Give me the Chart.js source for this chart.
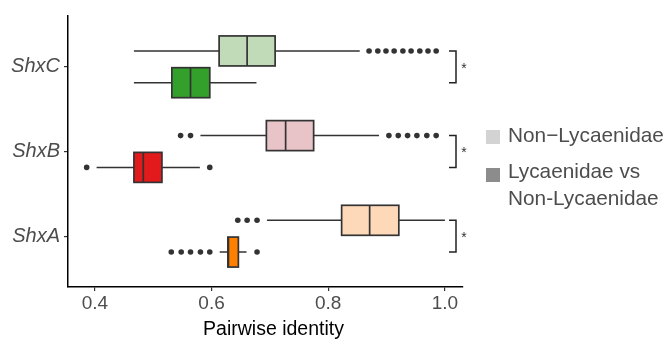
<!DOCTYPE html>
<html><head><meta charset="utf-8">
<script src="https://cdn.jsdelivr.net/npm/chart.js@4.4.1/dist/chart.umd.min.js"></script>
<style>html,body{margin:0;padding:0;background:#fff;}#wrap{position:relative;width:670px;height:340px;}</style>
</head><body><div id="wrap"><canvas id="c" width="670" height="340"></canvas></div>
<script>
// ---- data ----
const categories = ['ShxA', 'ShxB', 'ShxC'];
const seriesNames = ['Non\u2212Lycaenidae', 'Lycaenidae vs', 'Non-Lycaenidae'];
const xTickValues = [0.4, 0.6, 0.8, 1.0];

// Non-Lycaenidae (light boxes), per category ShxA, ShxB, ShxC
const nonLycLow    = [0.695, 0.581, 0.467];
const nonLycQ1     = [0.823, 0.694, 0.613];
const nonLycMedian = [0.871, 0.727, 0.661];
const nonLycQ3     = [0.921, 0.775, 0.709];
const nonLycHigh   = [1.000, 0.887, 0.854];
const nonLycOutliers = [
  [0.645, 0.661, 0.678],
  [0.547, 0.564, 0.904, 0.920, 0.936, 0.952, 0.969, 0.985],
  [0.870, 0.885, 0.899, 0.913, 0.928, 0.942, 0.957, 0.971, 0.985]
];

// Lycaenidae vs Non-Lycaenidae (dark boxes)
const lycLow    = [0.614, 0.403, 0.467];
const lycQ1     = [0.628, 0.467, 0.532];
const lycMedian = [0.629, 0.483, 0.564];
const lycQ3     = [0.646, 0.515, 0.597];
const lycHigh   = [0.660, 0.580, 0.677];
const lycOutliers = [
  [0.531, 0.548, 0.564, 0.581, 0.597, 0.678],
  [0.386, 0.597],
  []
];

// ---- styles ----
const lightFill = ['#fdd9b9', '#e8c4c8', '#c1dbb9'];
const darkFill  = ['#ff7f00', '#e31a1c', '#33a02c'];
const FONT = '"Liberation Sans", Arial, Helvetica, sans-serif';
const DODGE = 0.1875;

const outlierPoints = [];
categories.forEach((c, i) => {
  nonLycOutliers[i].forEach(v => outlierPoints.push({x: v, y: i + 1 + DODGE}));
  lycOutliers[i].forEach(v => outlierPoints.push({x: v, y: i + 1 - DODGE}));
});

const boxPlugin = {
  id: 'boxes',
  beforeDatasetsDraw(chart) {
    const {ctx, scales: {x, y}} = chart;
    const half = 15;
    ctx.save();
    ctx.strokeStyle = '#333333';
    const drawBox = (yv, lo, q1, med, q3, hi, fill) => {
      const py = y.getPixelForValue(yv);
      ctx.lineWidth = 1.5;
      ctx.beginPath();
      ctx.moveTo(x.getPixelForValue(lo), py); ctx.lineTo(x.getPixelForValue(q1), py);
      ctx.moveTo(x.getPixelForValue(q3), py); ctx.lineTo(x.getPixelForValue(hi), py);
      ctx.stroke();
      const x1 = x.getPixelForValue(q1), x2 = x.getPixelForValue(q3);
      ctx.fillStyle = fill;
      ctx.fillRect(x1, py - half, x2 - x1, 2 * half);
      ctx.lineWidth = 1.7;
      ctx.strokeRect(x1, py - half, x2 - x1, 2 * half);
      const xm = x.getPixelForValue(med);
      ctx.beginPath(); ctx.moveTo(xm, py - half); ctx.lineTo(xm, py + half); ctx.stroke();
    };
    categories.forEach((c, i) => {
      drawBox(i + 1 + DODGE, nonLycLow[i], nonLycQ1[i], nonLycMedian[i], nonLycQ3[i], nonLycHigh[i], lightFill[i]);
      drawBox(i + 1 - DODGE, lycLow[i], lycQ1[i], lycMedian[i], lycQ3[i], lycHigh[i], darkFill[i]);
    });
    ctx.restore();
  },
  afterDraw(chart) {
    const {ctx, scales: {x, y}, chartArea} = chart;
    ctx.save();
    // significance brackets
    const bx = chartArea.right - 7;
    categories.forEach((c, i) => {
      const yt = y.getPixelForValue(i + 1 + DODGE), yb = y.getPixelForValue(i + 1 - DODGE);
      ctx.strokeStyle = '#222'; ctx.lineWidth = 1.5;
      ctx.beginPath();
      ctx.moveTo(bx - 7, yt); ctx.lineTo(bx, yt); ctx.lineTo(bx, yb); ctx.lineTo(bx - 7, yb);
      ctx.stroke();
      ctx.fillStyle = '#333'; ctx.font = '14px ' + FONT;
      ctx.textAlign = 'center'; ctx.textBaseline = 'middle';
      ctx.fillText('*', bx + 8, (yt + yb) / 2 + 2);
    });
    // x title
    ctx.fillStyle = '#000'; ctx.font = '19.5px ' + FONT;
    ctx.textAlign = 'center'; ctx.textBaseline = 'alphabetic';
    ctx.fillText('Pairwise identity', (chartArea.left + chartArea.right) / 2 + 8, 335);
    // legend
    ctx.fillStyle = '#d3d3d3'; ctx.fillRect(486, 130, 14, 14);
    ctx.fillStyle = '#8c8c8c'; ctx.fillRect(486, 168, 14, 14);
    ctx.fillStyle = '#4d4d4d'; ctx.font = '20.8px ' + FONT; ctx.textAlign = 'left';
    ctx.fillText(seriesNames[0], 508, 142);
    ctx.fillText(seriesNames[1], 508, 178);
    ctx.fillText(seriesNames[2], 508, 205);
    ctx.restore();
  }
};

new Chart(document.getElementById('c'), {
  type: 'scatter',
  data: {
    datasets: [{
      data: outlierPoints,
      pointRadius: 2.8,
      pointBackgroundColor: '#333333',
      pointBorderWidth: 0,
      showLine: false
    }]
  },
  options: {
    responsive: false,
    animation: false,
    events: [],
    layout: {padding: {top: 10, right: 207, left: 0, bottom: 0}},
    plugins: {legend: {display: false}, tooltip: {enabled: false}},
    scales: {
      x: {
        type: 'linear', min: 0.354, max: 1.031,
        afterBuildTicks(s) { s.ticks = xTickValues.map(v => ({value: v})); },
        afterFit(s) { s.height = 53; },
        ticks: {callback: v => Number(v).toFixed(1), color: '#4d4d4d', font: {family: FONT, size: 19}, padding: 1, maxRotation: 0, autoSkip: false},
        grid: {drawOnChartArea: false, drawTicks: true, tickLength: 4, color: '#333', lineWidth: 1.2},
        border: {display: true, color: '#000', width: 1.5}
      },
      y: {
        type: 'linear', min: 0.4, max: 3.6,
        afterBuildTicks(s) { s.ticks = categories.map((c, i) => ({value: i + 1})); },
        afterFit(s) { s.width = 68; },
        ticks: {callback: v => categories[Math.round(v) - 1], color: '#4d4d4d', font: {family: FONT, size: 20, style: 'italic'}, padding: 4, autoSkip: false},
        grid: {drawOnChartArea: false, drawTicks: true, tickLength: 4, color: '#333', lineWidth: 1.2},
        border: {display: true, color: '#000', width: 1.5}
      }
    }
  },
  plugins: [boxPlugin]
});
</script>
</body></html>
